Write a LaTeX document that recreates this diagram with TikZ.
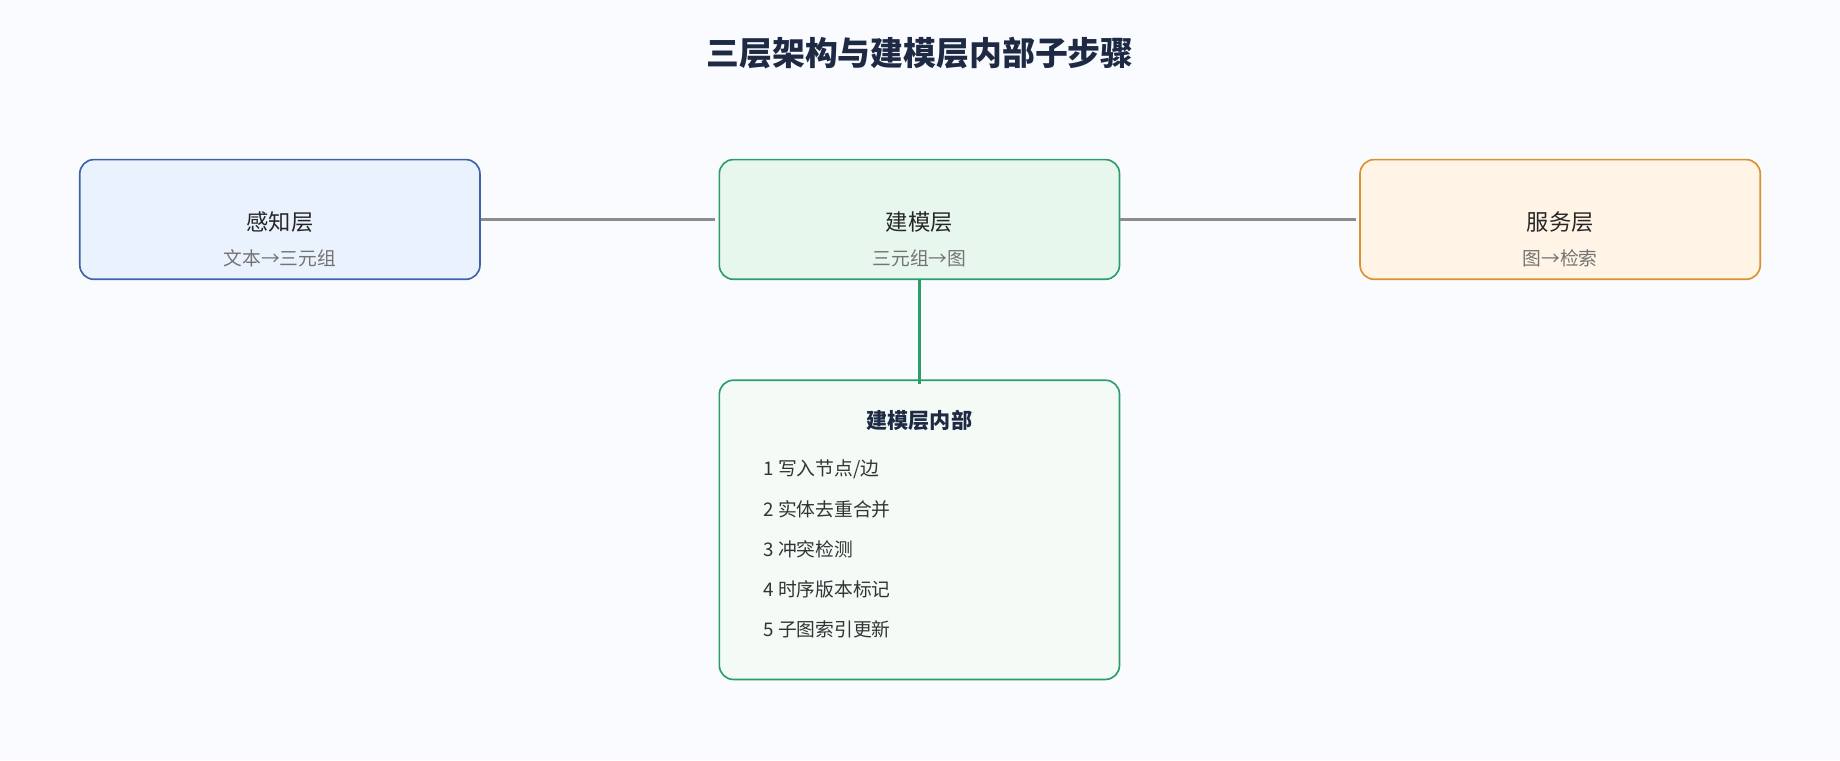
\documentclass[tikz,border=0pt]{standalone}
\usepackage{fontspec}
\setmainfont{Noto Sans CJK SC}
\begin{document}
\begin{tikzpicture}[x=1pt,y=-1pt,
  box/.style={rounded corners=12pt,line width=1.4pt,minimum width=341pt,minimum height=102pt,inner sep=0pt},
  lab/.style={font=\fontsize{19}{22}\selectfont,text=black!85},
  sub/.style={font=\fontsize{16}{19}\selectfont,text=black!55},
  item/.style={font=\fontsize{16}{19}\selectfont,text=black!80,anchor=west}]
\definecolor{bg}{HTML}{F9FBFF}
\definecolor{bB}{HTML}{3E64A8}\definecolor{fB}{HTML}{EAF2FD}
\definecolor{bG}{HTML}{2A9D68}\definecolor{fG}{HTML}{E7F7EE}
\definecolor{bO}{HTML}{D9922E}\definecolor{fO}{HTML}{FFF4E5}
\definecolor{fI}{HTML}{F4FBF7}
\definecolor{tt}{HTML}{1E2A44}
\fill[bg] (0,0) rectangle (1568,648);
\useasboundingbox (0,0) rectangle (1568,648);
\node[font=\bfseries\fontsize{28}{32}\selectfont,text=tt] (title) at (784,45) {三层架构与建模层内部子步骤};
\node[box,draw=bB,fill=fB] (p) at (238.5,187) {};
\node[box,draw=bG,fill=fG] (m) at (783.5,187) {};
\node[box,draw=bO,fill=fO] (s) at (1329.5,187) {};
\node[box,draw=bG,fill=fI,minimum height=255pt] (in) at (783.5,451.5) {};
\node[lab] (pl) at (238.5,189) {感知层};
\node[sub] (ps) at (238.5,220) {文本→三元组};
\node[lab] (ml) at (783.5,189) {建模层};
\node[sub] (ms) at (783.5,220) {三元组→图};
\node[lab] (sl) at (1329.5,189) {服务层};
\node[sub] (ss) at (1329.5,220) {图→检索};
\node[font=\bfseries\fontsize{18}{21}\selectfont,text=tt] (it) at (783.5,358) {建模层内部};
\node[item] (i1) at (647,400) {1 写入节点/边};
\node[item] (i2) at (647,434) {2 实体去重合并};
\node[item] (i3) at (647,468) {3 冲突检测};
\node[item] (i4) at (647,502) {4 时序版本标记};
\node[item] (i5) at (647,536) {5 子图索引更新};
\draw[line width=3pt,black!45] (p.east) -- ([xshift=-3pt]m.west);
\draw[line width=3pt,black!45] (m.east) -- ([xshift=-3pt]s.west);
\draw[line width=2.4pt,bG] (m.south) -- ([yshift=-4pt]in.north);
\end{tikzpicture}
\end{document}
